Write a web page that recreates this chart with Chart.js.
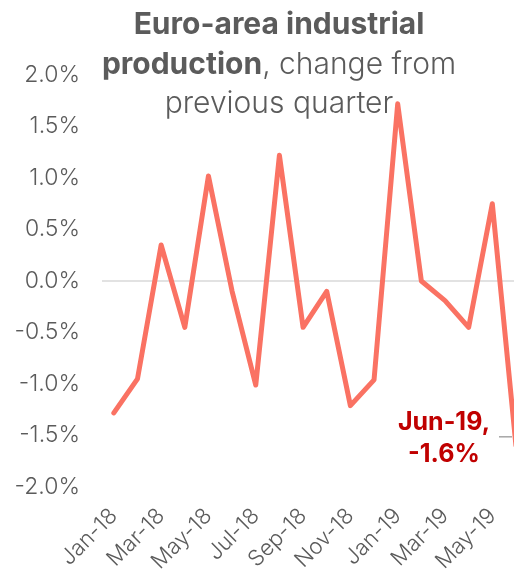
<!DOCTYPE html>
<html>
<head>
<meta charset="utf-8">
<script src="https://cdn.jsdelivr.net/npm/chart.js@4.4.1/dist/chart.umd.min.js"></script>
<style>
  html, body { margin: 0; padding: 0; background: #ffffff; overflow: hidden; }
  #wrap { position: relative; width: 551px; height: 574px; }
</style>
</head>
<body>
<div id="wrap"><canvas id="chart" width="551" height="574"></canvas></div>
<script>
// Monthly change, euro-area industrial production (%)
const months = ['Jan-18','Feb-18','Mar-18','Apr-18','May-18','Jun-18','Jul-18','Aug-18','Sep-18',
                'Oct-18','Nov-18','Dec-18','Jan-19','Feb-19','Mar-19','Apr-19','May-19','Jun-19'];
const changePct = [-1.28, -0.95, 0.35, -0.45, 1.02, -0.10, -1.01, 1.22, -0.45,
                   -0.10, -1.21, -0.96, 1.72, 0.00, -0.19, -0.45, 0.75, -1.6];
const yTicks = [-2.0, -1.5, -1.0, -0.5, 0.0, 0.5, 1.0, 1.5, 2.0];
const calloutIndex = 17;
const calloutLines = ['Jun-19,', '-1.6%'];

const FONT = 'Inter, "Noto Sans", sans-serif';
const TEXT_GREY = '#5b5b5b';
const LINE_COLOUR = '#fa7263';

// Title with a bold lead-in, drawn across the top of the plot
const titlePlugin = {
  id: 'richTitle',
  beforeDatasetsDraw(chart) {
    const ctx = chart.ctx;
    const cx = 279;
    const lines = [
      [{ t: 'Euro-area industrial', w: 700 }],
      [{ t: 'production', w: 700 }, { t: ', change from', w: 300 }],
      [{ t: 'previous quarter', w: 300 }]
    ];
    const baselines = [34, 74, 113];
    ctx.save();
    ctx.fillStyle = TEXT_GREY;
    ctx.textBaseline = 'alphabetic';
    ctx.textAlign = 'left';
    lines.forEach((parts, i) => {
      let total = 0;
      parts.forEach(p => { ctx.font = p.w + ' 30px ' + FONT; p.width = ctx.measureText(p.t).width; total += p.width; });
      let x = cx - total / 2;
      parts.forEach(p => { ctx.font = p.w + ' 30px ' + FONT; ctx.fillText(p.t, x, baselines[i]); x += p.width; });
    });
    ctx.restore();
  }
};

// Zero line and the callout for the latest month
const calloutPlugin = {
  id: 'callout',
  beforeDatasetsDraw(chart) {
    const { ctx, chartArea, scales } = chart;
    const y0 = scales.y.getPixelForValue(0);
    ctx.save();
    ctx.strokeStyle = '#d9d9d9';
    ctx.lineWidth = 1.5;
    ctx.beginPath();
    ctx.moveTo(chartArea.left, y0);
    ctx.lineTo(chartArea.right, y0);
    ctx.stroke();
    ctx.restore();
  },
  afterDatasetsDraw(chart) {
    const { ctx, scales } = chart;
    const px = scales.x.getPixelForValue(calloutIndex);
    const py = scales.y.getPixelForValue(changePct[calloutIndex]);
    const cx = px - 72;
    ctx.save();
    ctx.fillStyle = '#c00000';
    ctx.font = '700 25px ' + FONT;
    ctx.textAlign = 'center';
    ctx.textBaseline = 'alphabetic';
    ctx.fillText(calloutLines[0], cx, py - 16);
    ctx.fillText(calloutLines[1], cx, py + 16);
    ctx.strokeStyle = '#a6a6a6';
    ctx.lineWidth = 1.5;
    ctx.beginPath();
    ctx.moveTo(px - 17, py - 9);
    ctx.lineTo(px - 4, py - 9);
    ctx.stroke();
    ctx.restore();
  }
};

new Chart(document.getElementById('chart'), {
  type: 'line',
  data: {
    labels: months,
    datasets: [{
      data: changePct,
      borderColor: LINE_COLOUR,
      borderWidth: 5,
      borderCapStyle: 'round',
      borderJoinStyle: 'round',
      pointRadius: 0,
      tension: 0,
      fill: false
    }]
  },
  options: {
    responsive: false,
    animation: false,
    layout: { padding: { top: 75, right: 13, bottom: 0, left: 0 } },
    plugins: { legend: { display: false }, tooltip: { enabled: false }, title: { display: false } },
    scales: {
      x: {
        offset: true,
        grid: { display: false, drawTicks: false },
        border: { display: false },
        afterFit(scale) { scale.height = 87; },
        ticks: {
          autoSkip: false,
          maxRotation: 45,
          minRotation: 45,
          padding: 16,
          color: TEXT_GREY,
          font: { family: FONT, size: 22, weight: 300 },
          callback(v, i) { return i % 2 === 0 ? months[i] : ''; }
        }
      },
      y: {
        min: -2,
        max: 2,
        afterBuildTicks(scale) { scale.ticks = yTicks.map(v => ({ value: v })); },
        afterFit(scale) { scale.width = 102; },
        grid: { display: false, drawTicks: false },
        border: { display: false },
        ticks: {
          padding: 22,
          color: TEXT_GREY,
          font: { family: FONT, size: 23, weight: 300 },
          callback(v) { return v.toFixed(1) + '%'; }
        }
      }
    }
  },
  plugins: [titlePlugin, calloutPlugin]
});
</script>
</body>
</html>
